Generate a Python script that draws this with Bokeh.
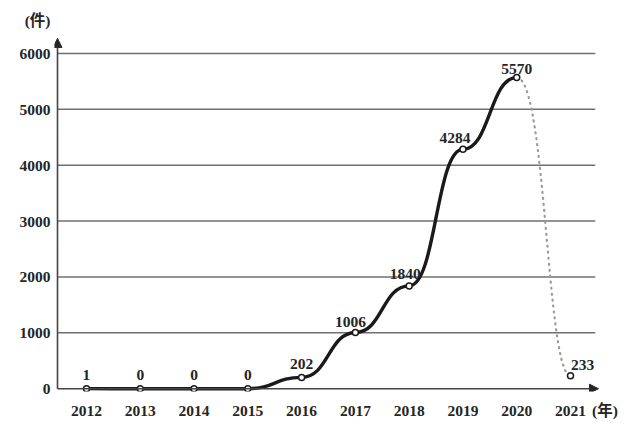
from bokeh.plotting import figure
from bokeh.models import ColumnDataSource, Range1d, Arrow, NormalHead, FixedTicker
from bokeh.core.properties import value
from bokeh.embed import file_html
from bokeh.resources import INLINE

years = [2012, 2013, 2014, 2015, 2016, 2017, 2018, 2019, 2020, 2021]
counts = [1, 0, 0, 0, 202, 1006, 1840, 4284, 5570, 233]
labels = ["1", "0", "0", "0", "202", "1006", "1840", "4284", "5570", "233"]
y_ticks = [0, 1000, 2000, 3000, 4000, 5000, 6000]
y_unit_label = "(件)"
x_unit_label = "(年)"

# layout / style constants (not data)
X0, X1 = 2011.405, 2021.855
Y0, Y1 = -50, 6804
AXIS_X = 2011.461
GRID_END = 2021.46
ARROW_X_END = 2021.52
ARROW_Y_END = 6268
X_UNIT_POS = 2021.64
Y_UNIT_POS = 6589
label_dx = [0, 0, 0, 0, 0, -5, -4, -8, 0, 12]
label_dy = [-9, -9, -9, -9, -8, -5, -7, -6, -3, -6]

FONT = "Liberation Serif, Noto Sans CJK SC"
INK = "#262626"

p = figure(width=624, height=421, output_backend="svg", toolbar_location=None,
           x_range=Range1d(X0, X1), y_range=Range1d(Y0, Y1),
           min_border_left=54, min_border_right=8, min_border_top=8, min_border_bottom=29)
p.outline_line_color = None
p.grid.visible = False

p.yaxis.ticker = FixedTicker(ticks=y_ticks + [Y_UNIT_POS])
p.yaxis.major_label_overrides = {Y_UNIT_POS: y_unit_label}
p.xaxis.ticker = FixedTicker(ticks=years + [X_UNIT_POS])
p.xaxis.major_label_overrides = {X_UNIT_POS: x_unit_label}
for ax in (p.xaxis[0], p.yaxis[0]):
    ax.major_tick_out = 0
    ax.major_tick_in = 0
    ax.major_tick_line_color = None
    ax.minor_tick_line_color = None
    ax.axis_line_color = None
    ax.major_label_text_font = FONT
    ax.major_label_text_font_size = "15.5px"
    ax.major_label_text_font_style = "bold"
    ax.major_label_text_color = INK
p.yaxis.major_label_standoff = 4
p.xaxis.major_label_standoff = 10

# horizontal grid lines
p.segment(x0=AXIS_X, x1=GRID_END, y0=y_ticks[1:], y1=y_ticks[1:],
          line_color="#6f6f6f", line_width=1.5)

# axis lines with arrow heads
p.add_layout(Arrow(end=NormalHead(size=9, fill_color=INK, line_color=INK),
                   x_start=AXIS_X, y_start=0, x_end=AXIS_X, y_end=ARROW_Y_END,
                   line_color="#444444", line_width=1.6))
p.add_layout(Arrow(end=NormalHead(size=9, fill_color=INK, line_color=INK),
                   x_start=AXIS_X, y_start=0, x_end=ARROW_X_END, y_end=0,
                   line_color="#444444", line_width=1.6))

# curve segments as cubic beziers with horizontal tangents
seg = ColumnDataSource(dict(
    x0=years[:-2], y0=counts[:-2], x1=years[1:-1], y1=counts[1:-1],
    cx0=[x + 0.5 for x in years[:-2]], cy0=counts[:-2],
    cx1=[x - 0.5 for x in years[1:-1]], cy1=counts[1:-1]))
p.bezier(x0="x0", y0="y0", x1="x1", y1="y1", cx0="cx0", cy0="cy0", cx1="cx1", cy1="cy1",
         source=seg, line_color="#1a1a1a", line_width=3.4)

last = ColumnDataSource(dict(
    x0=years[-2:-1], y0=counts[-2:-1], x1=years[-1:], y1=counts[-1:],
    cx0=[years[-2] + 0.55], cy0=counts[-2:-1], cx1=[years[-1] - 0.45], cy1=counts[-1:]))
p.bezier(x0="x0", y0="y0", x1="x1", y1="y1", cx0="cx0", cy0="cy0", cx1="cx1", cy1="cy1",
         source=last, line_color="#9a9a9a", line_width=2.2, line_dash="1 5", line_cap="round")

pts = ColumnDataSource(dict(x=years, y=counts, t=labels, dx=label_dx, dy=label_dy))
p.scatter("x", "y", source=pts, size=6, fill_color="white", line_color="#1a1a1a", line_width=1.5)
p.text("x", "y", text="t", source=pts, x_offset="dx", y_offset="dy",
       text_align="center", text_baseline="bottom",
       text_font=value(FONT), text_font_size="15.5px", text_font_style="bold", text_color=INK)

open("out.html", "w").write(file_html(p, INLINE))
